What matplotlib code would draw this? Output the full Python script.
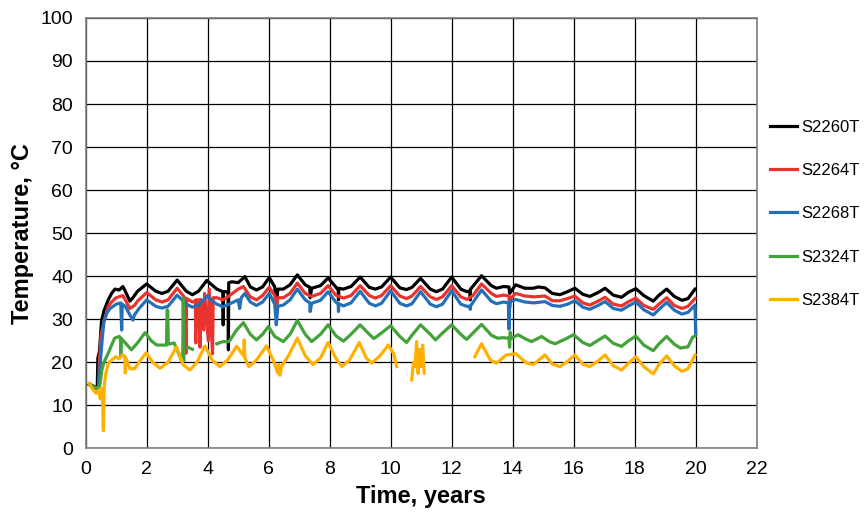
import numpy as np
import matplotlib
matplotlib.use("Agg")
import matplotlib.pyplot as plt

nan = np.nan

# S2260T
t_2260 = [0.12, 0.3, 0.38, 0.40, 0.45, 0.52, 0.6, 0.74, 0.85, 0.96, 1.1, 1.22, 1.3, 1.45, 1.55, 1.7,
          2.0, 2.3, 2.5, 2.7, 3.0, 3.3, 3.5, 3.7, 3.97, 4.3, 4.5, 4.51, 4.52, 4.67, 4.68, 4.69, 4.8,
          5.0, 5.22, 5.4, 5.6, 5.8, 6.02, 6.2, 6.25, 6.3, 6.48, 6.7, 6.94, 7.2, 7.35, 7.36, 7.41,
          7.7, 7.95, 8.2, 8.28, 8.29, 8.3, 8.45, 8.7, 9.0, 9.3, 9.5, 9.7, 10.0, 10.3, 10.52, 10.7,
          10.98, 11.3, 11.5, 11.7, 12.0, 12.3, 12.5, 12.6, 12.61, 12.62, 12.98, 13.3, 13.47, 13.7,
          13.88, 13.9, 14.1, 14.4, 14.68, 14.84, 15.06, 15.3, 15.55, 15.8, 16.04, 16.3, 16.53, 16.8,
          17.03, 17.3, 17.57, 17.8, 18.04, 18.3, 18.61, 18.8, 19.05, 19.3, 19.55, 19.75, 19.98]
v_2260 = [14.9, 14.3, 14.0, 21.0, 22.5, 29.5, 32.0, 34.5, 36.0, 37.0, 36.8, 37.6, 36.5, 34.2, 35.0, 36.5,
          38.2, 36.5, 36.0, 36.5, 39.1, 36.5, 35.7, 36.5, 39.0, 37.0, 36.4, 28.7, 36.4, 36.4, 22.9, 38.5, 38.7,
          38.5, 39.9, 37.5, 36.8, 37.5, 39.7, 37.5, 33.0, 37.0, 37.0, 38.0, 40.3, 38.0, 37.4, 35.0, 37.2,
          37.8, 39.6, 37.5, 36.8, 34.5, 37.2, 37.0, 37.6, 39.8, 37.4, 37.0, 37.5, 39.8, 37.3, 36.9, 37.4,
          39.5, 37.0, 36.4, 37.0, 39.8, 37.0, 36.4, 36.6, 34.5, 37.0, 40.1, 37.8, 37.2, 37.6,
          37.5, 36.0, 38.0, 37.2, 37.2, 37.5, 37.3, 36.0, 35.7, 36.4, 37.2, 35.8, 35.3, 36.2,
          37.2, 35.6, 35.1, 36.3, 37.1, 35.5, 34.2, 35.6, 37.0, 35.3, 34.4, 34.8, 37.0]

# S2264T
t_2264 = [0.12, 0.3, 0.42, 0.45, 0.5, 0.6, 0.74, 0.85, 1.0, 1.22, 1.3, 1.45, 1.6, 1.7, 2.0, 2.3, 2.5,
          2.7, 3.0, 3.25, 3.29, 3.31, 3.5, 3.6, 3.61, 3.62, 3.7, 3.75, 3.77, 3.87, 3.9, 4.02, 4.05,
          4.16, 4.18, 4.3, 4.5, 4.7, 5.0, 5.17, 5.4, 5.6, 5.8, 6.02, 6.2, 6.25, 6.3, 6.48, 6.7, 6.94,
          7.2, 7.41, 7.7, 7.95, 8.2, 8.45, 8.7, 9.0, 9.3, 9.5, 9.7, 10.0, 10.3, 10.52, 10.7, 10.98,
          11.3, 11.5, 11.7, 12.0, 12.3, 12.5, 12.7, 12.98, 13.3, 13.47, 13.7, 13.88, 13.9, 13.95,
          14.1, 14.4, 14.7, 15.06, 15.3, 15.55, 15.8, 16.04, 16.3, 16.53, 16.8, 17.03, 17.3, 17.57,
          17.8, 18.04, 18.3, 18.61, 18.8, 19.05, 19.3, 19.55, 19.75, 19.98]
v_2264 = [14.8, 14.2, 14.0, 20.0, 26.0, 29.5, 33.0, 34.0, 35.0, 35.5, 34.5, 32.5, 33.2, 34.2, 36.2, 34.5, 34.0,
          34.5, 37.2, 35.0, 22.1, 34.8, 34.0, 34.3, 24.5, 34.5, 34.5, 23.5, 34.6, 27.5, 36.0, 25.0, 37.0,
          22.0, 35.0, 35.0, 34.5, 35.4, 37.0, 37.6, 35.2, 34.5, 35.5, 37.4, 35.5, 31.0, 35.0, 35.0, 36.0, 38.4,
          36.0, 35.3, 36.0, 37.8, 35.6, 34.9, 35.5, 37.8, 35.5, 34.9, 35.5, 37.8, 35.4, 34.8, 35.4, 37.6,
          35.2, 34.6, 35.2, 37.8, 35.2, 34.6, 35.5, 38.2, 36.0, 35.3, 35.6, 35.4, 32.5, 35.0,
          36.0, 35.4, 35.2, 35.4, 34.3, 34.3, 34.8, 35.4, 33.8, 33.3, 34.2, 35.1, 33.5, 33.1,
          34.1, 34.9, 33.2, 32.3, 33.5, 35.0, 33.2, 32.5, 33.0, 34.8]

# S2268T
t_2268 = [0.12, 0.3, 0.42, 0.45, 0.48, 0.55, 0.6, 0.7, 0.8, 1.0, 1.15, 1.18, 1.2, 1.3, 1.45, 1.55, 1.6,
          1.75, 2.0, 2.3, 2.5, 2.7, 3.0, 3.3, 3.5, 3.7, 4.0, 4.1, 4.3, 4.5, 4.7, 5.0, 5.05, 5.1, 5.22,
          5.4, 5.6, 5.8, 6.02, 6.2, 6.25, 6.3, 6.48, 6.7, 6.94, 7.2, 7.35, 7.36, 7.41, 7.7, 7.95, 8.2,
          8.28, 8.29, 8.3, 8.45, 8.7, 9.0, 9.3, 9.5, 9.7, 10.0, 10.3, 10.52, 10.7, 10.98, 11.3, 11.5,
          11.7, 12.0, 12.3, 12.5, 12.6, 12.61, 12.62, 12.98, 13.3, 13.47, 13.7, 13.86, 13.88, 13.9,
          14.1, 14.4, 14.7, 15.06, 15.3, 15.55, 15.8, 16.04, 16.3, 16.53, 16.8, 17.03, 17.3, 17.57,
          17.8, 18.04, 18.3, 18.61, 18.8, 19.05, 19.3, 19.55, 19.75, 19.98, 20.0]
v_2268 = [14.8, 14.0, 13.8, 16.0, 20.0, 26.0, 29.5, 31.5, 32.5, 33.5, 33.8, 27.5, 33.5, 33.0, 31.0, 29.8, 31.0,
          32.5, 34.5, 33.0, 32.6, 33.0, 35.6, 33.5, 32.8, 33.3, 35.5, 34.5, 33.5, 32.9, 33.5, 34.5, 32.5, 35.0, 36.0,
          34.0, 33.2, 34.0, 36.0, 33.5, 28.7, 33.0, 33.3, 34.5, 37.0, 34.5, 33.8, 31.8, 33.7, 34.4, 36.4, 34.0,
          33.5, 31.8, 33.6, 33.1, 33.8, 36.5, 33.7, 33.1, 33.7, 36.6, 33.7, 33.1, 33.6, 36.4, 33.5, 32.9,
          33.5, 36.6, 33.5, 33.0, 33.0, 32.3, 33.1, 36.8, 34.2, 33.6, 34.0, 33.8, 27.7, 34.0,
          34.6, 34.0, 33.8, 34.1, 33.2, 33.0, 33.5, 34.3, 32.8, 32.3, 33.2, 34.1, 32.5, 32.1,
          33.1, 34.0, 32.2, 31.0, 32.3, 33.9, 32.1, 31.2, 31.6, 33.3, 26.7]

# S2324T
t_2324 = [0.12, 0.3, 0.45, 0.53, 0.6, 0.74, 0.85, 0.95, 1.1, 1.14, 1.15, 1.17, 1.3, 1.5, 1.7, 1.95,
          2.15, 2.33, 2.5, 2.65, 2.67, 2.69, 2.71, 2.9, 3.18, 3.2, 3.22, 3.23, 3.35, 3.5, 3.51,
          4.3, 4.5, 4.7, 4.95, 5.17, 5.4, 5.6, 5.8, 5.99, 6.2, 6.48, 6.7, 6.94, 7.2, 7.41, 7.7, 7.95,
          8.2, 8.45, 8.7, 9.0, 9.3, 9.45, 9.7, 10.0, 10.3, 10.52, 10.7, 10.98, 11.3, 11.47, 11.7,
          12.0, 12.3, 12.49, 12.7, 12.98, 13.3, 13.5, 13.7, 13.88, 13.9, 13.92, 13.95, 14.18, 14.4,
          14.62, 14.95, 15.2, 15.39, 15.7, 16.0, 16.3, 16.53, 16.8, 17.03, 17.3, 17.57, 17.8, 18.04,
          18.3, 18.61, 18.8, 19.05, 19.3, 19.5, 19.75, 19.9, 19.98]
v_2324 = [14.8, 14.2, 13.9, 18.2, 20.0, 22.1, 24.0, 25.6, 26.0, 25.8, 21.5, 25.5, 24.5, 22.9, 24.5, 26.9,
          25.0, 24.0, 24.0, 24.0, 32.2, 32.0, 24.2, 24.5, 19.8, 34.9, 20.5, nan, 23.5, 23.0, nan,
          24.3, 24.8, 24.8, 27.5, 29.2, 26.5, 25.2, 26.5, 28.3, 26.0, 24.8, 26.5, 29.7, 26.5, 24.8, 26.5, 28.7,
          26.2, 24.9, 26.5, 28.7, 26.5, 25.5, 26.8, 28.5, 26.0, 24.6, 26.3, 28.7, 26.5, 25.2, 26.8,
          28.7, 26.5, 25.3, 26.8, 28.8, 26.3, 25.6, 25.7, 25.6, 23.5, 27.0, 25.5, 26.4, 25.5,
          24.8, 26.0, 24.8, 24.3, 25.3, 26.4, 24.6, 23.9, 25.1, 26.1, 24.4, 23.7, 25.0, 26.1,
          24.0, 22.7, 24.3, 26.0, 24.2, 23.3, 23.6, 25.8, 26.1]

# S2384T
t_2384 = [0.12, 0.2, 0.34, 0.42, 0.48, 0.5, 0.55, 0.58, 0.61, 0.65, 0.74, 0.85, 0.99, 1.1, 1.2, 1.28,
          1.3, 1.32, 1.45, 1.6, 1.75, 1.98, 2.2, 2.44, 2.7, 2.98, 3.2, 3.42, 3.65, 3.91, 4.15, 4.4,
          4.65, 4.95, 5.18, 5.2, 5.22, 5.35, 5.6, 5.93, 6.15, 6.3, 6.33, 6.37, 6.42, 6.65, 6.94, 7.2,
          7.45, 7.7, 7.95, 8.2, 8.4, 8.65, 8.97, 9.2, 9.38, 9.65, 9.92, 10.1, 10.2, 10.3,
          10.69, 10.75, 10.8, 10.85, 10.9, 10.95, 11.0, 11.05, 11.1, 11.2,
          12.76, 12.98, 13.27, 13.47, 13.79, 14.1, 14.46, 14.68, 15.06, 15.3, 15.55, 15.8, 16.04,
          16.3, 16.53, 16.8, 17.03, 17.3, 17.57, 17.8, 18.04, 18.3, 18.61, 18.8, 19.05, 19.3, 19.55,
          19.75, 19.98]
v_2384 = [15.1, 14.0, 12.8, 13.5, 11.5, 14.0, 12.5, 4.1, 14.5, 17.0, 19.8, 20.5, 21.3, 20.8, 21.7, 21.5,
          17.5, 21.0, 18.5, 18.5, 20.0, 22.2, 20.0, 18.6, 20.0, 23.6, 19.4, 18.2, 20.0, 23.8, 20.5, 19.0,
          20.5, 23.7, 21.5, 25.2, 21.0, 19.0, 20.5, 23.8, 20.5, 17.5, 19.5, 17.0, 19.0, 21.5, 25.6, 21.5,
          19.5, 21.0, 24.6, 21.0, 19.0, 20.5, 24.6, 21.0, 19.8, 21.5, 24.0, 22.0, 19.0, nan,
          15.9, 20.0, 19.0, 24.8, 17.4, 23.0, 19.0, 24.0, 17.5, nan,
          21.3, 24.3, 20.5, 19.8, 21.7, 22.0, 19.8, 19.5, 21.7, 19.6, 19.0, 20.2, 21.7,
          19.6, 19.0, 20.3, 21.7, 19.2, 18.2, 19.8, 21.3, 19.0, 17.3, 19.5, 21.5, 19.2, 17.9,
          18.5, 21.7]

series = [
    ("S2260T", t_2260, v_2260, "#000000"),
    ("S2264T", t_2264, v_2264, "#e8332f"),
    ("S2268T", t_2268, v_2268, "#2470b8"),
    ("S2324T", t_2324, v_2324, "#43a33a"),
    ("S2384T", t_2384, v_2384, "#ffb000"),
]

plt.rcParams['font.family'] = ['Liberation Sans', 'DejaVu Sans']

fig = plt.figure(figsize=(8.68, 5.13), dpi=100)
ax = fig.add_axes([0.0987, 0.126, 0.773, 0.839])

for name, t, v, c in series:
    ax.plot(t, v, color=c, lw=2.3, label=name)

ax.set_xlim(0, 22)
ax.set_ylim(0, 100)
ax.set_xticks(range(0, 23, 2))
ax.set_yticks(range(0, 101, 10))
ax.tick_params(length=0, labelsize=14, pad=9)
ax.grid(True, color="#000000", lw=0.9)
ax.set_axisbelow(True)
for s in ax.spines.values():
    s.set_color("#7f7f7f")
    s.set_linewidth(1.2)

ax.set_xlabel("Time, years", fontsize=17, fontweight="bold", labelpad=5)
ax.set_ylabel("Temperature, °C", fontsize=17, fontweight="bold", labelpad=5)

ax.legend(loc="center left", bbox_to_anchor=(1.02, 0.545), frameon=False,
          fontsize=12, handlelength=1.6, handletextpad=0.25, labelspacing=1.7,
          borderpad=0, borderaxespad=0)

fig.savefig("out.png", dpi=100)
